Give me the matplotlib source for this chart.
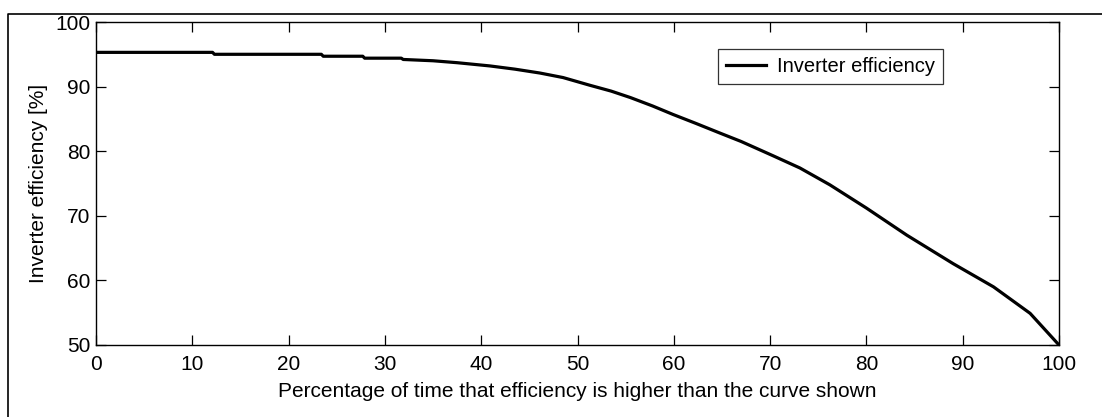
import numpy as np
import matplotlib
matplotlib.use("Agg")
import matplotlib.pyplot as plt
from matplotlib.lines import Line2D

# values
time_pct = [0, 12.1, 12.3, 23.4, 23.6, 27.7, 27.9, 31.7, 31.9, 35.0, 37.5, 40.9,
            43.5, 46.1, 48.5, 51.3, 53.5, 55.5, 57.8, 59.9, 62.3, 64.8, 67.0,
            70.3, 73.1, 76.2, 80.0, 84.2, 89.0, 93.2, 97.0, 100.0]
efficiency = [95.3, 95.3, 95.0, 95.0, 94.7, 94.7, 94.4, 94.4, 94.2, 94.0, 93.7, 93.2,
              92.7, 92.1, 91.4, 90.2, 89.3, 88.3, 87.0, 85.7, 84.3, 82.8, 81.5,
              79.3, 77.4, 74.8, 71.2, 67.0, 62.6, 59.0, 54.9, 50.0]
xticks = [0, 10, 20, 30, 40, 50, 60, 70, 80, 90, 100]
yticks = [50, 60, 70, 80, 90, 100]

plt.rcParams['font.family'] = ['Liberation Sans', 'DejaVu Sans']

W, H = 1102, 417
fig = plt.figure(figsize=(W / 100, H / 100), dpi=100)
ax = fig.add_axes([96 / W, 1 - 345 / H, (1059 - 96) / W, (345 - 22) / H])

ax.plot(time_pct, efficiency, color='black', lw=2.3, label='Inverter efficiency')

ax.set_xlim(0, 100)
ax.set_ylim(50, 100)
ax.set_xticks(xticks)
ax.set_yticks(yticks)
ax.tick_params(direction='in', length=7, width=0.9, top=True, right=True,
               labelsize=15, colors='black', pad=7)
ax.tick_params(axis='y', pad=4)
for s in ax.spines.values():
    s.set_linewidth(1.0)

ax.set_xlabel('Percentage of time that efficiency is higher than the curve shown',
              fontsize=15, labelpad=6)
ax.set_ylabel('Inverter efficiency [%]', fontsize=15, labelpad=5)

leg = ax.legend(loc='upper right', bbox_to_anchor=((943 - 96) / 963, (345 - 49) / 323),
                borderaxespad=0, fancybox=False, fontsize=14.5, handlelength=2.0,
                borderpad=0.4, handletextpad=0.55)
leg.get_frame().set_edgecolor('black')
leg.get_frame().set_linewidth(0.9)

# outer frame (top and left edges visible in the reference crop)
fig.add_artist(Line2D([8 / W, 8 / W, 1], [0, 1 - 14 / H, 1 - 14 / H],
                      color='black', lw=1.2, transform=fig.transFigure))

fig.savefig('out.png', dpi=100)
